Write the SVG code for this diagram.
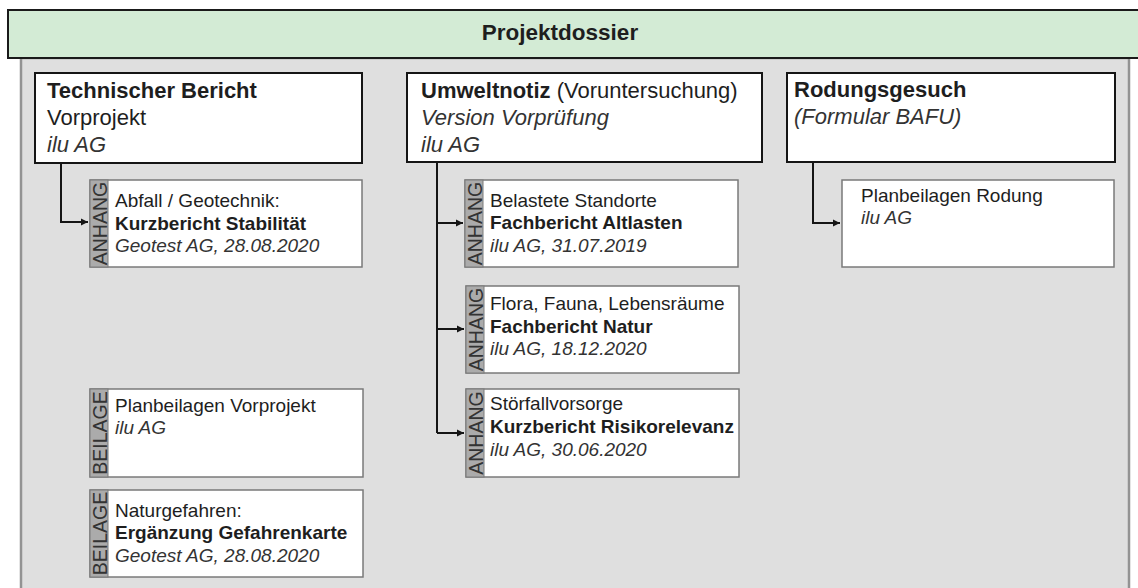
<svg xmlns="http://www.w3.org/2000/svg" width="1138" height="588" viewBox="0 0 1138 588">
<style>
text{font-family:"Liberation Sans",Arial,sans-serif;fill:#1e1e1e}
.t{font-size:22px}
.s{font-size:19px}
.b{font-weight:bold}
.i{font-style:italic;fill:#333}
.main{fill:#fff;stroke:#151515;stroke-width:2}
.sub{fill:#fff;stroke:#7a7a7a;stroke-width:1.5}
.tab{fill:#ababab;stroke:#7a7a7a;stroke-width:1}
.tl{font-size:19.5px;fill:#333;text-anchor:middle;dominant-baseline:central}
.c{fill:none;stroke:#151515;stroke-width:2}
</style>
<defs>
<marker id="ah" markerUnits="userSpaceOnUse" markerWidth="8" markerHeight="8" refX="7" refY="4" orient="auto">
<path d="M0,0.5 L7,4 L0,7.5 z" fill="#151515"/>
</marker>
</defs>
<rect x="0" y="0" width="1138" height="588" fill="#fff"/>
<g id="panel">
<rect x="21" y="58" width="1108" height="545" fill="#dfdfdf" stroke="#939393" stroke-width="2.5"/>
</g>
<g id="header">
<rect x="8" y="10" width="1140" height="48" fill="#d3ebd5" stroke="#1a1a1a" stroke-width="2"/>
<text x="560" y="40" class="b" font-size="22.5" text-anchor="middle">Projektdossier</text>
</g>
<g id="connectors">
<path class="c" d="M61,163 V222 H88" marker-end="url(#ah)"/>
<path class="c" d="M437,162 V433"/>
<path class="c" d="M437,223 H463" marker-end="url(#ah)"/>
<path class="c" d="M437,329 H464" marker-end="url(#ah)"/>
<path class="c" d="M437,433 H464" marker-end="url(#ah)"/>
<path class="c" d="M813,162 V223 H840" marker-end="url(#ah)"/>
</g>
<g id="tech">
<rect class="main" x="35" y="73" width="327" height="90"/>
<text x="47" y="98" class="t b">Technischer Bericht</text>
<text x="47" y="125" class="t">Vorprojekt</text>
<text x="47" y="152" class="t i">ilu AG</text>
</g>
<g id="umwelt">
<rect class="main" x="407" y="73" width="355" height="89"/>
<text x="421" y="98" class="t"><tspan class="b">Umweltnotiz</tspan> (Voruntersuchung)</text>
<text x="421" y="125" class="t i">Version Vorprüfung</text>
<text x="421" y="152" class="t i">ilu AG</text>
</g>
<g id="rodung">
<rect class="main" x="787" y="73" width="328" height="89"/>
<text x="794" y="97" class="t b">Rodungsgesuch</text>
<text x="794" y="124" class="t i">(Formular BAFU)</text>
</g>
<g id="abfall">
<rect class="sub" x="90" y="180" width="272" height="87"/>
<rect class="tab" x="90" y="180" width="18" height="87"/>
<text class="tl" transform="translate(99.5,223.5) rotate(-90)">ANHANG</text>
<text x="115" y="207" class="s">Abfall / Geotechnik:</text>
<text x="115" y="230" class="s b">Kurzbericht Stabilität</text>
<text x="115" y="252" class="s i">Geotest AG, 28.08.2020</text>
</g>
<g id="planv">
<rect class="sub" x="90" y="389" width="273" height="88"/>
<rect class="tab" x="90" y="389" width="18" height="88"/>
<text class="tl" transform="translate(99.5,433) rotate(-90)">BEILAGE</text>
<text x="115" y="412" class="s">Planbeilagen Vorprojekt</text>
<text x="115" y="434" class="s i">ilu AG</text>
</g>
<g id="natur">
<rect class="sub" x="90" y="490" width="273" height="87"/>
<rect class="tab" x="90" y="490" width="18" height="87"/>
<text class="tl" transform="translate(99.5,533.5) rotate(-90)">BEILAGE</text>
<text x="115" y="517" class="s">Naturgefahren:</text>
<text x="115" y="539" class="s b">Ergänzung Gefahrenkarte</text>
<text x="115" y="562" class="s i">Geotest AG, 28.08.2020</text>
</g>
<g id="altlasten">
<rect class="sub" x="465" y="180" width="273" height="87"/>
<rect class="tab" x="465" y="180" width="18" height="87"/>
<text class="tl" transform="translate(474.5,223.5) rotate(-90)">ANHANG</text>
<text x="490" y="207" class="s">Belastete Standorte</text>
<text x="490" y="229" class="s b">Fachbericht Altlasten</text>
<text x="490" y="252" class="s i">ilu AG, 31.07.2019</text>
</g>
<g id="natur2">
<rect class="sub" x="466" y="286" width="273" height="87"/>
<rect class="tab" x="466" y="286" width="18" height="87"/>
<text class="tl" transform="translate(475.5,329.5) rotate(-90)">ANHANG</text>
<text x="490" y="310" class="s">Flora, Fauna, Lebensräume</text>
<text x="490" y="333" class="s b">Fachbericht Natur</text>
<text x="490" y="355" class="s i">ilu AG, 18.12.2020</text>
</g>
<g id="risiko">
<rect class="sub" x="466" y="389" width="273" height="88"/>
<rect class="tab" x="466" y="389" width="18" height="88"/>
<text class="tl" transform="translate(475.5,433) rotate(-90)">ANHANG</text>
<text x="490" y="410" class="s">Störfallvorsorge</text>
<text x="490" y="433" class="s b">Kurzbericht Risikorelevanz</text>
<text x="490" y="456" class="s i">ilu AG, 30.06.2020</text>
</g>
<g id="planr">
<rect class="sub" x="842" y="180" width="272" height="87"/>
<text x="861" y="202" class="s">Planbeilagen Rodung</text>
<text x="861" y="224" class="s i">ilu AG</text>
</g>
</svg>
